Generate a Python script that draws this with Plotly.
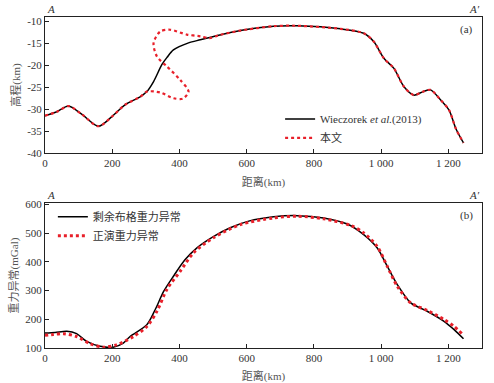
import plotly.graph_objects as go
from plotly.subplots import make_subplots

# (a) elevation profile
wz_x = [0, 35, 70, 110, 159, 199, 238, 283, 303, 323, 348, 363, 382, 427, 462, 520, 581,
        680, 750, 879, 948, 978, 1008, 1038, 1068, 1097, 1125, 1147, 1177, 1202, 1222, 1245]
wz_y = [-31.5, -30.6, -29.3, -31.2, -33.9, -31.7, -29.0, -27.2, -26.0, -23.7, -19.8, -18.2,
        -16.5, -14.9, -14.2, -13.1, -12.1, -11.1, -11.0, -11.7, -12.7, -14.6, -18.4, -20.7,
        -24.9, -26.8, -26.0, -25.6, -27.9, -30.2, -34.4, -37.7]

bw_x = [0, 35, 70, 110, 159, 199, 238, 283, 303, 343, 382, 410, 427, 402, 363, 333, 323,
        343, 372, 422, 462, 490, 520, 581, 680, 750, 879, 948, 978, 1008, 1038, 1068, 1097,
        1125, 1147, 1177, 1202, 1222, 1245]
bw_y = [-31.5, -30.6, -29.3, -31.2, -33.9, -31.7, -29.0, -27.2, -26.0, -26.2, -27.5, -27.6,
        -26.0, -23.3, -20.3, -18.0, -14.9, -12.3, -11.9, -13.0, -13.4, -13.8, -13.1, -12.1,
        -11.1, -11.0, -11.7, -12.7, -14.6, -18.4, -20.7, -24.9, -26.8, -26.0, -25.6, -27.9,
        -30.2, -34.4, -37.7]

# (b) gravity anomaly
res_x = [0, 30, 65, 94, 124, 164, 203, 233, 253, 303, 328, 353, 382, 417, 452, 502, 551,
         606, 680, 750, 829, 899, 948, 988, 1018, 1048, 1088, 1137, 1187, 1217, 1245]
res_y = [152, 154, 158, 150, 123, 106, 103, 117, 140, 181, 234, 297, 350, 408, 449, 489,
         519, 542, 557, 561, 553, 532, 495, 449, 385, 321, 257, 228, 193, 164, 132]

fwd_x = [0, 25, 55, 94, 134, 174, 213, 263, 303, 333, 363, 402, 442, 501, 581, 680, 750,
         829, 909, 948, 988, 1018, 1048, 1088, 1137, 1187, 1217, 1240]
fwd_y = [144, 147, 150, 140, 115, 103, 111, 140, 175, 228, 305, 367, 432, 484, 530, 553,
         559, 550, 527, 501, 454, 385, 315, 257, 231, 199, 175, 150]

x_ticks = [0, 200, 400, 600, 800, 1000, 1200]
x_ticktext = ["0", "200", "400", "600", "800", "1 000", "1 200"]
ya_ticks = [-10, -15, -20, -25, -30, -35, -40]
ya_ticktext = ["-10", "-15", "-20", "-25", "-30", "-35", "-40"]
yb_ticks = [100, 200, 300, 400, 500, 600]

RED = "#e8202a"
SERIF = "Liberation Serif, Noto Sans CJK SC, serif"
TXT = "#333333"

fig = make_subplots(rows=2, cols=1)

fig.add_trace(go.Scatter(x=wz_x, y=wz_y, mode="lines", line=dict(color="black", width=1.5, shape="spline", smoothing=0.8),
                         name="Wieczorek <i>et al.</i>(2013)", legend="legend"), row=1, col=1)
fig.add_trace(go.Scatter(x=bw_x, y=bw_y, mode="lines", line=dict(color=RED, width=2.2, dash="dot", shape="spline", smoothing=0.8),
                         name="本文", legend="legend"), row=1, col=1)
fig.add_trace(go.Scatter(x=res_x, y=res_y, mode="lines", line=dict(color="black", width=1.5, shape="spline", smoothing=0.8),
                         name="剩余布格重力异常", legend="legend2"), row=2, col=1)
fig.add_trace(go.Scatter(x=fwd_x, y=fwd_y, mode="lines", line=dict(color=RED, width=3, dash="dot", shape="spline", smoothing=0.8),
                         name="正演重力异常", legend="legend2"), row=2, col=1)

axis_style = dict(showline=True, mirror=True, linecolor="#222", linewidth=1, ticks="inside", ticklen=4,
                  tickcolor="#222", showgrid=False, zeroline=False, automargin=False,
                  tickfont=dict(family=SERIF, size=11, color=TXT))

fig.update_xaxes(axis_style)
fig.update_yaxes(axis_style)
fig.update_xaxes(range=[0, 1300], tickvals=x_ticks, ticktext=x_ticktext,
                 title=dict(text="距离(km)", font=dict(family=SERIF, size=11, color="#555"), standoff=10))
fig.update_layout(
    xaxis=dict(domain=[0, 1]),
    xaxis2=dict(domain=[0, 1]),
    yaxis=dict(domain=[0.589, 1], range=[-40, -9], tickvals=ya_ticks, ticktext=ya_ticktext,
               title=dict(text="高程(km)", font=dict(family=SERIF, size=11, color="#555"), standoff=4)),
    yaxis2=dict(domain=[0, 0.438], range=[100, 605], tickvals=yb_ticks,
                title=dict(text="重力异常(mGal)", font=dict(family=SERIF, size=11, color="#555"), standoff=4)),
)

for yref, lab in (("y domain", "(a)"), ("y2 domain", "(b)")):
    xr = "x domain" if yref == "y domain" else "x2 domain"
    fig.add_annotation(x=0.0, y=1.0, xref=xr, yref=yref, text="<i>A</i>", showarrow=False,
                       xanchor="left", yanchor="bottom", font=dict(family=SERIF, size=11, color=TXT))
    fig.add_annotation(x=1.0, y=1.0, xref=xr, yref=yref, text="<i>A′</i>", showarrow=False,
                       xanchor="right", yanchor="bottom", font=dict(family=SERIF, size=11, color=TXT))
    fig.add_annotation(x=0.985, y=0.97, xref=xr, yref=yref, text=lab, showarrow=False,
                       xanchor="right", yanchor="top", font=dict(family=SERIF, size=11, color=TXT))

fig.update_layout(
    width=494, height=383,
    margin=dict(l=45, r=12, t=17, b=35),
    paper_bgcolor="white", plot_bgcolor="white",
    legend=dict(x=0.538, y=0.736, xanchor="left", yanchor="top", bgcolor="rgba(0,0,0,0)",
                font=dict(family=SERIF, size=11, color=TXT), tracegroupgap=0, itemwidth=30),
    legend2=dict(x=0.018, y=0.44, xanchor="left", yanchor="top", bgcolor="rgba(0,0,0,0)",
                 font=dict(family=SERIF, size=11, color=TXT), tracegroupgap=0, itemwidth=30),
)

# drop the browser's default 8px body margin so the figure fills the window exactly
fig.write_html("out.html", config={"displayModeBar": False},
               post_script="document.body.style.margin='0px';")
